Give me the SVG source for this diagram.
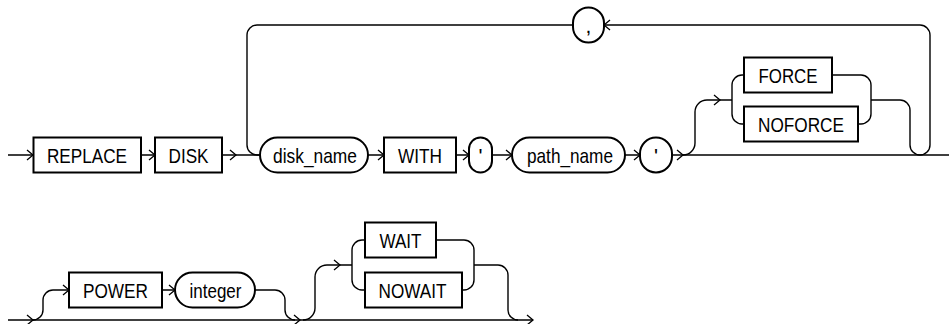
<svg xmlns="http://www.w3.org/2000/svg" width="949" height="324" viewBox="0 0 949 324">
<style>
.box{fill:#fff;stroke:#000;stroke-width:2}
.ln{fill:none;stroke:#000;stroke-width:1.4}
.ar{fill:none;stroke:#000;stroke-width:1.3}
text{font-family:"Liberation Sans",Arial,sans-serif;font-size:21px;fill:#000;text-anchor:middle}
</style>
<rect width="949" height="324" fill="#fff"/>
<g id="connectors">
<path class="ln" d="M8 155H33M141 155H155M222 155H260M368 155H384M456 155H469M492 155H512M625 155H640M672 155H949"/>
<path class="ln" d="M683 155a12 12 0 0 0 12 -12V112a12 12 0 0 1 12 -12H732"/>
<path class="ln" d="M744 75H742a10 10 0 0 0 -10 10V114a10 10 0 0 0 10 10H744"/>
<path class="ln" d="M832 75H861a10 10 0 0 1 10 10V114a10 10 0 0 1 -10 10H858"/>
<path class="ln" d="M871 100H900a10 10 0 0 1 10 10V145a10 10 0 0 0 10 10a10 10 0 0 0 10 -10V35a10 10 0 0 0 -10 -10H604"/>
<path class="ln" d="M573 25H257a10 10 0 0 0 -10 10V145a10 10 0 0 0 10 10H260"/>
<path class="ln" d="M8 320H533"/>
<path class="ln" d="M33 320a10 10 0 0 0 10 -10V300a10 10 0 0 1 10 -10H69"/>
<path class="ln" d="M162 290H175M255 290H275a10 10 0 0 1 10 10V310a10 10 0 0 0 10 10"/>
<path class="ln" d="M303 320a12 12 0 0 0 12 -12V277a12 12 0 0 1 12 -12H352"/>
<path class="ln" d="M365 240H362a10 10 0 0 0 -10 10V280a10 10 0 0 0 10 10H365"/>
<path class="ln" d="M436 240H464a10 10 0 0 1 10 10V280a10 10 0 0 1 -10 10H462"/>
<path class="ln" d="M474 265H498a10 10 0 0 1 10 10V310a10 10 0 0 0 10 10"/>
<path class="ar" d="M27 150L33 155L27 160M149 150L155 155L149 160M230 150L236 155L230 160M378 150L384 155L378 160M463 150L469 155L463 160M506 150L512 155L506 160M634 150L640 155L634 160M677 150L683 155L677 160M714 95L720 100L714 105M610 20L604 25L610 30"/>
<path class="ar" d="M27 315L33 320L27 325M63 285L69 290L63 295M169 285L175 290L169 295M294 315L300 320L294 325M334 260L340 265L334 270M527 315L533 320L527 325"/>
</g>
<g id="n-replace"><rect class="box" x="33.5" y="137.5" width="107.5" height="35"/><text x="87" y="162.5" textLength="80" lengthAdjust="spacingAndGlyphs">REPLACE</text></g>
<g id="n-disk"><rect class="box" x="155" y="137.5" width="67" height="35"/><text x="188.5" y="162.5" textLength="40" lengthAdjust="spacingAndGlyphs">DISK</text></g>
<g id="n-disk_name"><rect class="box" x="260" y="137.5" width="108" height="35" rx="17.5"/><text x="315" y="162.5" textLength="84" lengthAdjust="spacingAndGlyphs">disk_name</text></g>
<g id="n-with"><rect class="box" x="384" y="137.5" width="72" height="35"/><text x="420" y="162.5" textLength="44" lengthAdjust="spacingAndGlyphs">WITH</text></g>
<g id="n-quote1"><rect class="box" x="469" y="137.5" width="23" height="35" rx="11.5"/><text x="480.5" y="162.5">'</text></g>
<g id="n-path_name"><rect class="box" x="512" y="137.5" width="113" height="35" rx="17.5"/><text x="570" y="162.5" textLength="86" lengthAdjust="spacingAndGlyphs">path_name</text></g>
<g id="n-quote2"><rect class="box" x="640" y="137.5" width="32" height="35" rx="16"/><text x="656" y="162.5">'</text></g>
<g id="n-comma"><rect class="box" x="573" y="7.5" width="31" height="35" rx="15.5"/><text x="588.5" y="32.5">,</text></g>
<g id="n-force"><rect class="box" x="744" y="57.5" width="88" height="35"/><text x="788" y="82.5" textLength="59" lengthAdjust="spacingAndGlyphs">FORCE</text></g>
<g id="n-noforce"><rect class="box" x="744" y="106.5" width="114" height="35"/><text x="801" y="131.5" textLength="86" lengthAdjust="spacingAndGlyphs">NOFORCE</text></g>
<g id="n-power"><rect class="box" x="69" y="272.5" width="93" height="35"/><text x="115.5" y="297.5" textLength="65" lengthAdjust="spacingAndGlyphs">POWER</text></g>
<g id="n-integer"><rect class="box" x="175" y="272.5" width="80" height="35" rx="17.5"/><text x="215.5" y="297.5" textLength="52" lengthAdjust="spacingAndGlyphs">integer</text></g>
<g id="n-wait"><rect class="box" x="365" y="222.5" width="71" height="35"/><text x="400.5" y="247.5" textLength="42" lengthAdjust="spacingAndGlyphs">WAIT</text></g>
<g id="n-nowait"><rect class="box" x="365" y="272.5" width="97" height="35"/><text x="412.5" y="297.5" textLength="68" lengthAdjust="spacingAndGlyphs">NOWAIT</text></g>
</svg>
